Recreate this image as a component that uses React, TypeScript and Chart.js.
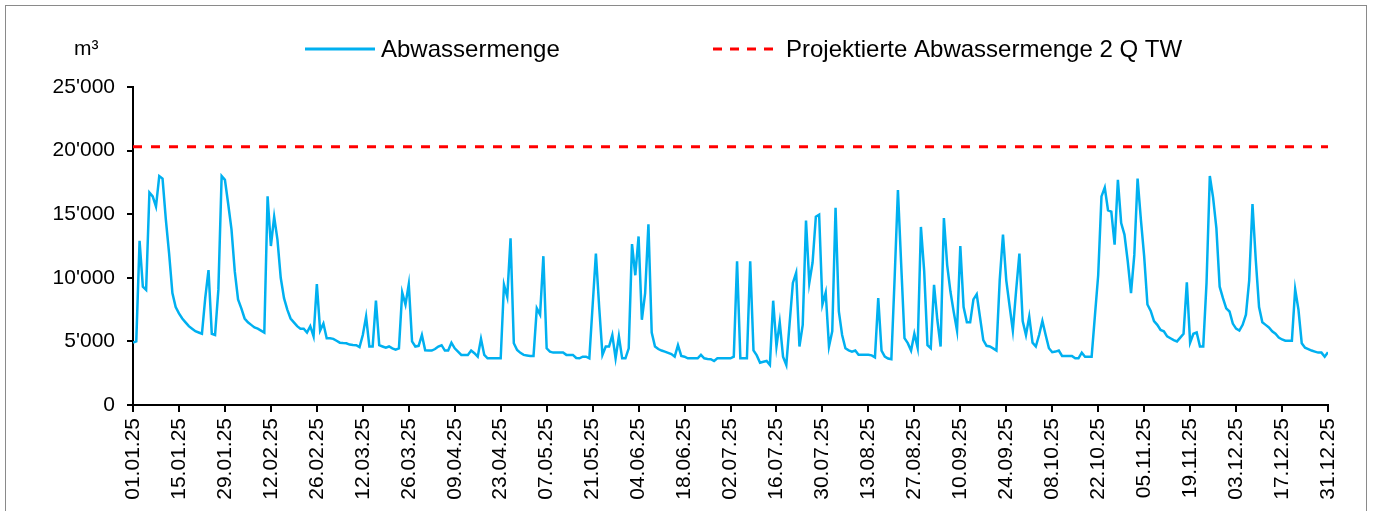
import React, { useEffect, useRef } from "react";
import { Chart, registerables } from "chart.js";

Chart.register(...registerables);

// Daily waste-water volume 2025 (m³), one array per month
const jan = [4900, 5000, 12900, 9300, 9050, 16700, 16400, 15600, 18000, 17800, 14600, 11900, 8800, 7700, 7200, 6800, 6500, 6200, 6000, 5800, 5700, 5600, 8400, 10600, 5600, 5500, 9050, 18000, 17700, 15800, 13800];
const feb = [10500, 8300, 7600, 6800, 6500, 6300, 6100, 6000, 5850, 5700, 16400, 12500, 14800, 13000, 10000, 8400, 7500, 6800, 6500, 6200, 6000, 6000, 5700, 6200, 5400, 9500, 5850, 6400];
const mar = [5250, 5250, 5200, 5050, 4900, 4870, 4850, 4750, 4720, 4700, 4550, 5500, 6950, 4600, 4600, 8200, 4700, 4600, 4500, 4600, 4450, 4350, 4450, 8850, 7900, 9500, 5000, 4600, 4650, 5500, 4300];
const apr = [4280, 4280, 4400, 4600, 4700, 4280, 4280, 4900, 4460, 4200, 3940, 3940, 3940, 4280, 4070, 3800, 5200, 3940, 3670, 3670, 3670, 3670, 3670, 9450, 8500, 13100, 4860, 4330, 4100, 3940];
const may = [3900, 3860, 3860, 7600, 7100, 11700, 4460, 4200, 4120, 4120, 4120, 4120, 3940, 3940, 3940, 3700, 3670, 3800, 3800, 3670, 7800, 11900, 7700, 3940, 4600, 4600, 5500, 3670, 5400, 3670, 3670];
const jun = [4460, 12650, 10200, 13250, 6700, 8800, 14200, 5700, 4600, 4400, 4280, 4200, 4100, 4000, 3800, 4700, 3860, 3800, 3670, 3670, 3670, 3670, 3940, 3670, 3620, 3600, 3460, 3670, 3670, 3670];
const jul = [3670, 3670, 3800, 11300, 3670, 3670, 3670, 11300, 4300, 3900, 3330, 3400, 3460, 3150, 8200, 4600, 6500, 3800, 3150, 6400, 9600, 10400, 4600, 6300, 14500, 9600, 11200, 14800, 14960, 7900, 8850];
const aug = [4600, 5800, 15500, 7350, 5500, 4460, 4300, 4200, 4280, 3950, 3950, 3950, 3950, 3900, 3750, 8400, 4280, 3800, 3650, 3600, 10000, 16900, 11000, 5250, 4860, 4280, 5600, 4500, 14000, 10500, 4700];
const sep = [4460, 9450, 6700, 4600, 14700, 11000, 8900, 7300, 5850, 12500, 7700, 6500, 6500, 8300, 8700, 6900, 5100, 4650, 4600, 4450, 4280, 9800, 13400, 9800, 7800, 5850, 9000, 11900, 6600, 5500];
const oct = [6950, 4900, 4600, 5500, 6600, 5500, 4460, 4150, 4200, 4280, 3860, 3860, 3860, 3860, 3670, 3670, 4120, 3800, 3800, 3800, 7000, 10200, 16400, 17100, 15300, 15200, 12600, 17700, 14300, 13400, 11300];
const nov = [8800, 11800, 17800, 14600, 11700, 7900, 7400, 6600, 6300, 5900, 5800, 5400, 5250, 5100, 5000, 5300, 5600, 9650, 4900, 5600, 5700, 4600, 4600, 9600, 18000, 16300, 13900, 9300, 8400, 7600];
const dec = [7350, 6400, 6000, 5850, 6300, 7100, 9800, 15800, 11400, 7700, 6500, 6300, 6100, 5800, 5600, 5300, 5150, 5050, 5050, 5050, 9100, 7500, 4860, 4500, 4400, 4280, 4200, 4120, 4120, 3800, 4150];

// Projected design flow (2 Q TW)
const designFlow = 20300;

const seriesNames = ["Abwassermenge", "Projektierte Abwassermenge 2 Q TW"];
const unitLabel = "m³";

const xTickStep = 14;
const xTickLabels = [
  "01.01.25", "15.01.25", "29.01.25", "12.02.25", "26.02.25", "12.03.25", "26.03.25",
  "09.04.25", "23.04.25", "07.05.25", "21.05.25", "04.06.25", "18.06.25", "02.07.25",
  "16.07.25", "30.07.25", "13.08.25", "27.08.25", "10.09.25", "24.09.25", "08.10.25",
  "22.10.25", "05.11.25", "19.11.25", "03.12.25", "17.12.25", "31.12.25",
];
const yTickStep = 5000;
const yTickLabels = ["0", "5'000", "10'000", "15'000", "20'000", "25'000"];

const FONT = "'Liberation Sans', Arial, Helvetica, sans-serif";
const BLUE = "#00B0F0";
const RED = "#FF0000";

const legendPlugin = {
  id: "customLegend",
  afterDraw(chart: any) {
    const ctx = chart.ctx as CanvasRenderingContext2D;
    ctx.save();
    // unit label
    ctx.fillStyle = "#000";
    ctx.textBaseline = "alphabetic";
    ctx.textAlign = "left";
    ctx.font = `21px ${FONT}`;
    ctx.fillText(unitLabel, 74, 55);

    // legend item 1
    ctx.lineWidth = 3;
    ctx.strokeStyle = BLUE;
    ctx.setLineDash([]);
    ctx.beginPath();
    ctx.moveTo(305, 49);
    ctx.lineTo(375, 49);
    ctx.stroke();
    ctx.font = `24px ${FONT}`;
    ctx.fillText(seriesNames[0], 381, 57);

    // legend item 2
    ctx.strokeStyle = RED;
    ctx.setLineDash([9, 8]);
    ctx.beginPath();
    ctx.moveTo(713, 49);
    ctx.lineTo(780, 49);
    ctx.stroke();
    ctx.setLineDash([]);
    ctx.fillText(seriesNames[1], 786, 57);
    ctx.restore();
  },
};

export default function App() {
  const canvasRef = useRef<HTMLCanvasElement | null>(null);

  useEffect(() => {
    const flow = [jan, feb, mar, apr, may, jun, jul, aug, sep, oct, nov, dec].flat();
    const lastDay = flow.length - 1;
    const chart = new Chart(canvasRef.current as HTMLCanvasElement, {
      type: "line",
      data: {
        datasets: [
          {
            label: seriesNames[0],
            data: flow.map((v, i) => ({ x: i, y: v })),
            borderColor: BLUE,
            borderWidth: 2.5,
            pointRadius: 0,
            tension: 0,
            fill: false,
          },
          {
            label: seriesNames[1],
            data: flow.map((_, i) => ({ x: i, y: designFlow })),
            borderColor: RED,
            borderWidth: 3,
            borderDash: [9, 9],
            pointRadius: 0,
            tension: 0,
            fill: false,
          },
        ],
      },
      options: {
        responsive: false,
        animation: false,
        events: [],
        layout: { padding: { left: 0, right: 45, top: 87, bottom: 0 } },
        plugins: {
          legend: { display: false },
          title: { display: false },
          tooltip: { enabled: false },
        },
        scales: {
          x: {
            type: "linear",
            min: 0,
            max: lastDay,
            afterFit: (s: any) => {
              s.height = 106;
            },
            afterBuildTicks: (s: any) => {
              s.ticks = xTickLabels.map((_, i) => ({ value: i * xTickStep }));
            },
            ticks: {
              autoSkip: false,
              maxRotation: 90,
              minRotation: 90,
              padding: 6,
              color: "#000",
              font: { family: FONT, size: 21 },
              callback: (v: any) => xTickLabels[Math.round(Number(v) / xTickStep)] ?? "",
            },
            grid: {
              drawOnChartArea: false,
              drawTicks: true,
              tickLength: 7,
              color: "#000",
              lineWidth: 2,
            },
            border: { color: "#000", width: 2 },
          },
          y: {
            min: 0,
            max: 25000,
            afterFit: (s: any) => {
              s.width = 133;
            },
            afterBuildTicks: (s: any) => {
              s.ticks = yTickLabels.map((_, i) => ({ value: i * yTickStep }));
            },
            ticks: {
              padding: 12,
              color: "#000",
              font: { family: FONT, size: 21 },
              callback: (v: any) => yTickLabels[Math.round(Number(v) / yTickStep)] ?? "",
            },
            grid: {
              drawOnChartArea: false,
              drawTicks: true,
              tickLength: 6,
              color: "#000",
              lineWidth: 2,
            },
            border: { color: "#000", width: 2 },
          },
        },
      },
      plugins: [legendPlugin],
    } as any);
    return () => chart.destroy();
  }, []);

  return (
    <div
      style={{
        position: "fixed",
        left: 0,
        top: 0,
        width: 1373,
        height: 511,
        background: "#fff",
        overflow: "hidden",
      }}
    >
      <div
        style={{
          position: "absolute",
          left: 5,
          top: 5,
          width: 1360,
          height: 600,
          border: "1px solid #8a8a8a",
        }}
      />
      <canvas
        ref={canvasRef}
        width={1373}
        height={511}
        style={{ position: "absolute", left: 0, top: 0, width: 1373, height: 511 }}
      />
    </div>
  );
}
